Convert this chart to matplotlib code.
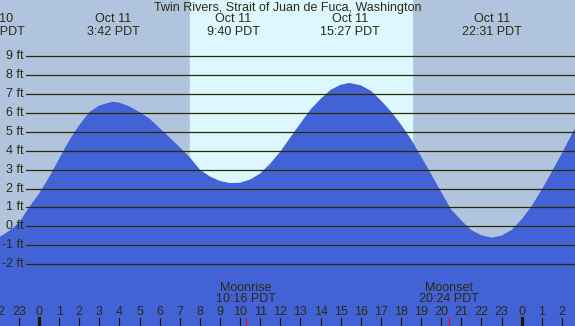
import numpy as np
import matplotlib
matplotlib.use('Agg')
import matplotlib.pyplot as plt
import matplotlib.transforms as mtransforms

# tide heights (ft), hours from midnight Oct 11 (PDT)
hours = [-2.2, -2, -1.5, -1, -0.5, 0, 0.5, 1, 1.5, 2, 2.5, 3, 3.5, 3.7, 4, 4.5,
         5, 5.5, 6, 6.5, 7, 7.5, 8, 8.5, 9, 9.5, 9.67, 10, 10.5, 11, 11.5, 12,
         12.5, 13, 13.5, 14, 14.5, 15, 15.45, 15.5, 16, 16.5, 17, 17.5, 18, 18.5,
         19, 19.5, 20, 20.5, 21, 21.5, 22, 22.52, 23, 23.5, 24, 24.5, 25, 25.5,
         26, 26.5, 27]
heights = [-0.62, -0.59, -0.25, 0.18, 1.0, 1.73, 2.6, 3.58, 4.55, 5.36, 6.05, 6.4,
           6.56, 6.6, 6.55, 6.35, 6.05, 5.7, 5.2, 4.7, 4.18, 3.65, 3.0, 2.64, 2.40,
           2.29, 2.3, 2.31, 2.48, 2.8, 3.33, 3.96, 4.72, 5.46, 6.19, 6.75, 7.23, 7.5,
           7.6, 7.58, 7.47, 7.18, 6.67, 6.08, 5.39, 4.61, 3.69, 2.76, 1.81, 0.88,
           0.31, -0.20, -0.48, -0.6, -0.49, -0.19, 0.38, 1.08, 1.95, 2.9, 3.87, 4.9,
           5.85]

# high / low labels
event_hours = [-2.2, 3.7, 9.67, 15.45, 22.52]
event_dates = ['Oct 10', 'Oct 11', 'Oct 11', 'Oct 11', 'Oct 11']
event_times = ['21:48 PDT', '3:42 PDT', '9:40 PDT', '15:27 PDT', '22:31 PDT']

sunrise, sunset = 7.5, 18.55
moon_hours = [10.27, 20.4]
moon_labels = ['Moonrise\n10:16 PDT', 'Moonset\n20:24 PDT']

ft_levels = [9, 8, 7, 6, 5, 4, 3, 2, 1, 0, -1, -2]
tick_hours = list(range(-2, 27))

plt.rcParams['font.family'] = ['Liberation Sans', 'DejaVu Sans']
txt = '#2b2b10'

fig = plt.figure(figsize=(5.75, 3.26), dpi=100)
ax = fig.add_axes([0, 0, 1, 1])
x0, x1 = -1.94, 26.65
y0, y1 = -5.28, 11.99
ax.set_xlim(x0, x1)
ax.set_ylim(y0, y1)
ax.axis('off')

# night / day background
ax.axvspan(x0, x1, color='#b0c4de', zorder=0)
ax.axvspan(sunrise, sunset, color='#ddf7ff', zorder=0.5)

# tide
ax.fill_between(hours, heights, y0, color='#4262d6', lw=0, zorder=1)

# level lines
for lv in ft_levels:
    ax.axhline(lv, xmin=26 / 575, xmax=1, color='#2b2b00', lw=0.9, zorder=2)
    ax.text(x0 + 24 / 575 * (x1 - x0), lv, f'{lv} ft', ha='right', va='center',
            fontsize=9, color=txt, zorder=3)

ax.text(0.5, 0.975, 'Twin Rivers, Strait of Juan de Fuca, Washington',
        transform=ax.transAxes, ha='center', va='center', fontsize=9, color=txt)

top = mtransforms.blended_transform_factory(ax.transData, ax.transAxes)
for h, d, t in zip(event_hours, event_dates, event_times):
    ax.text(h, 0.942, d, transform=top, ha='center', va='center', fontsize=9, color=txt)
    ax.text(h, 0.902, t, transform=top, ha='center', va='center', fontsize=9, color=txt)

# hour ticks along the bottom
for h in tick_hours:
    ax.text(h, 0.043, str(h % 24), transform=top, ha='center', va='center',
            fontsize=9, color=txt, zorder=3)
    if h % 24 == 0:
        ax.axvline(h, ymin=0, ymax=8 / 326, color='#1a1a00', lw=2.3, zorder=3)
    else:
        ax.axvline(h, ymin=0, ymax=8 / 326, color='#1a1a00', lw=0.8, zorder=3)

for h, lab in zip(moon_hours, moon_labels):
    ax.axvline(h, ymin=0, ymax=8 / 326, color='red', lw=0.8, zorder=3)
    lines = lab.split('\n')
    ax.text(h, 1 - 288 / 326, lines[0], transform=top, ha='center', va='center',
            fontsize=9, color=txt, zorder=3)
    ax.text(h, 1 - 299 / 326, lines[1], transform=top, ha='center', va='center',
            fontsize=9, color=txt, zorder=3)

fig.savefig('out.png', dpi=100)
